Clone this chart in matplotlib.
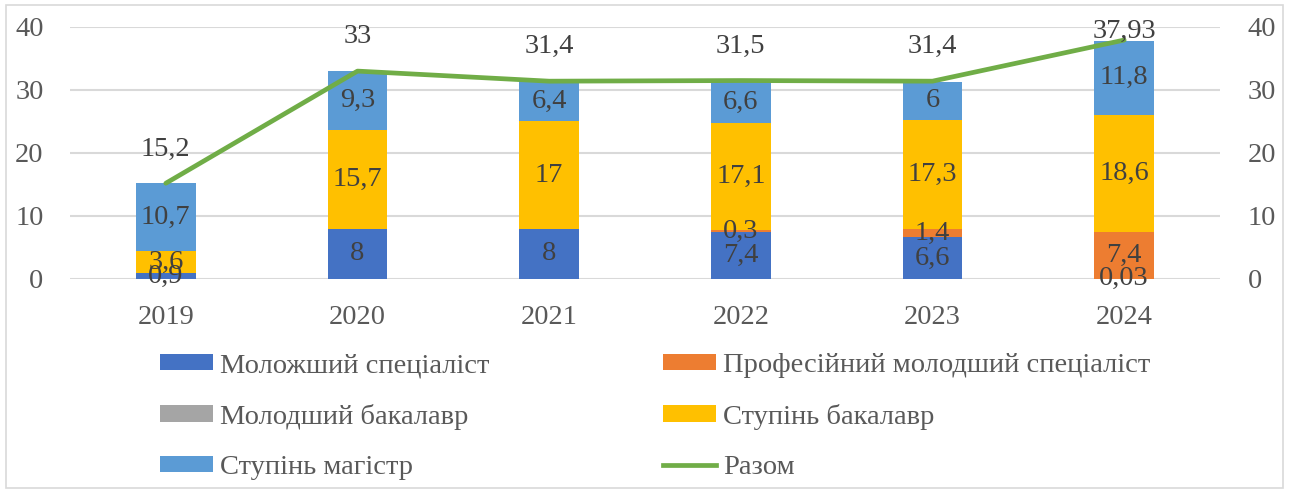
import matplotlib
matplotlib.use("Agg")
import matplotlib.pyplot as plt
from matplotlib.patches import Rectangle
from matplotlib.lines import Line2D
import numpy as np

plt.rcParams['font.family'] = ['Liberation Serif', 'DejaVu Serif']

years = ['2019', '2020', '2021', '2022', '2023', '2024']
junior_spec = [0.9, 8, 8, 7.4, 6.6, 0.03]
prof_junior_spec = [0, 0, 0, 0.3, 1.4, 7.4]
junior_bachelor = [0, 0, 0, 0, 0, 0]
bachelor = [3.6, 15.7, 17, 17.1, 17.3, 18.6]
master = [10.7, 9.3, 6.4, 6.6, 6, 11.8]
total = [15.2, 33, 31.4, 31.5, 31.4, 37.93]

series = [
    ('Моложший спеціаліст', junior_spec, '#4472C4'),
    ('Професійний молодший спеціаліст', prof_junior_spec, '#ED7D31'),
    ('Молодший бакалавр', junior_bachelor, '#A5A5A5'),
    ('Ступінь бакалавр', bachelor, '#FFC000'),
    ('Ступінь магістр', master, '#5B9BD5'),
]

FS = 20.5
label_col = '#404040'
tick_col = '#595959'

def fmt(v):
    return ('%g' % v).replace('.', ',')

fig = plt.figure(figsize=(12.93, 4.92), dpi=100)
ax = fig.add_axes([70 / 1293, 1 - 279 / 492, 1150 / 1293, 252 / 492])

x = np.arange(len(years))
bottom = np.zeros(len(years))
handles = {}
for name, vals, col in series:
    vals = np.array(vals, dtype=float)
    bars = ax.bar(x, vals, 0.31, bottom=bottom, color=col, zorder=2)
    handles[name] = bars
    for xi, b, v in zip(x, bottom, vals):
        if v > 0:
            ax.text(xi, b + v / 2, fmt(v), ha='center', va='center',
                    fontsize=FS, color=label_col, zorder=4)
    bottom += vals

line, = ax.plot(x, total, color='#70AD47', lw=3.4, zorder=3,
                solid_capstyle='round')
for xi, t in zip(x, total):
    if t > 35:
        # keep the label inside the chart area
        ax.annotate(fmt(t), (xi, 40), xytext=(0, 6), textcoords='offset points',
                    ha='center', va='top', fontsize=FS, color=label_col, zorder=4)
    else:
        ax.annotate(fmt(t), (xi, t), xytext=(0, 20), textcoords='offset points',
                    ha='center', va='baseline', fontsize=FS, color=label_col,
                    zorder=4)

ax.set_xlim(-0.5, len(years) - 0.5)
ax.set_ylim(0, 40)
ax.set_yticks(range(0, 41, 10))
ax.set_xticks(x)
ax.set_xticklabels(years)
ax.grid(axis='y', color='#D9D9D9', lw=1.5, zorder=0)
ax.set_axisbelow(True)
for s in ax.spines.values():
    s.set_visible(False)
ax.tick_params(axis='both', length=0, labelsize=FS, colors=tick_col)
ax.tick_params(axis='y', pad=19)
ax.tick_params(axis='x', pad=19)

ax2 = ax.twinx()
ax2.set_ylim(0, 40)
ax2.set_yticks(range(0, 41, 10))
for s in ax2.spines.values():
    s.set_visible(False)
ax2.tick_params(axis='y', length=0, labelsize=FS, colors=tick_col, pad=20)

green_handle = Line2D([], [], color='#70AD47', lw=3.4)
left_names = ['Моложший спеціаліст', 'Молодший бакалавр', 'Ступінь магістр']
right_names = ['Професійний молодший спеціаліст', 'Ступінь бакалавр']

leg_kw = dict(frameon=False, fontsize=FS, handlelength=1.86, handleheight=0.5,
              handletextpad=0.25, labelspacing=0.9, borderaxespad=0,
              borderpad=0, labelcolor=tick_col)
leg1 = fig.legend([handles[n] for n in left_names], left_names,
                  loc='upper left', bbox_to_anchor=(160 / 1293, 1 - 353 / 492),
                  **leg_kw)
leg2 = fig.legend([handles[n] for n in right_names] + [green_handle],
                  right_names + ['Разом'],
                  loc='upper left', bbox_to_anchor=(663 / 1293, 1 - 353 / 492),
                  **leg_kw)

fig.patches.append(Rectangle((6 / 1293, 4 / 492), 1277 / 1293, 483 / 492,
                             transform=fig.transFigure, fill=False,
                             edgecolor='#D9D9D9', lw=1.2))

fig.savefig('out.png', dpi=100)
